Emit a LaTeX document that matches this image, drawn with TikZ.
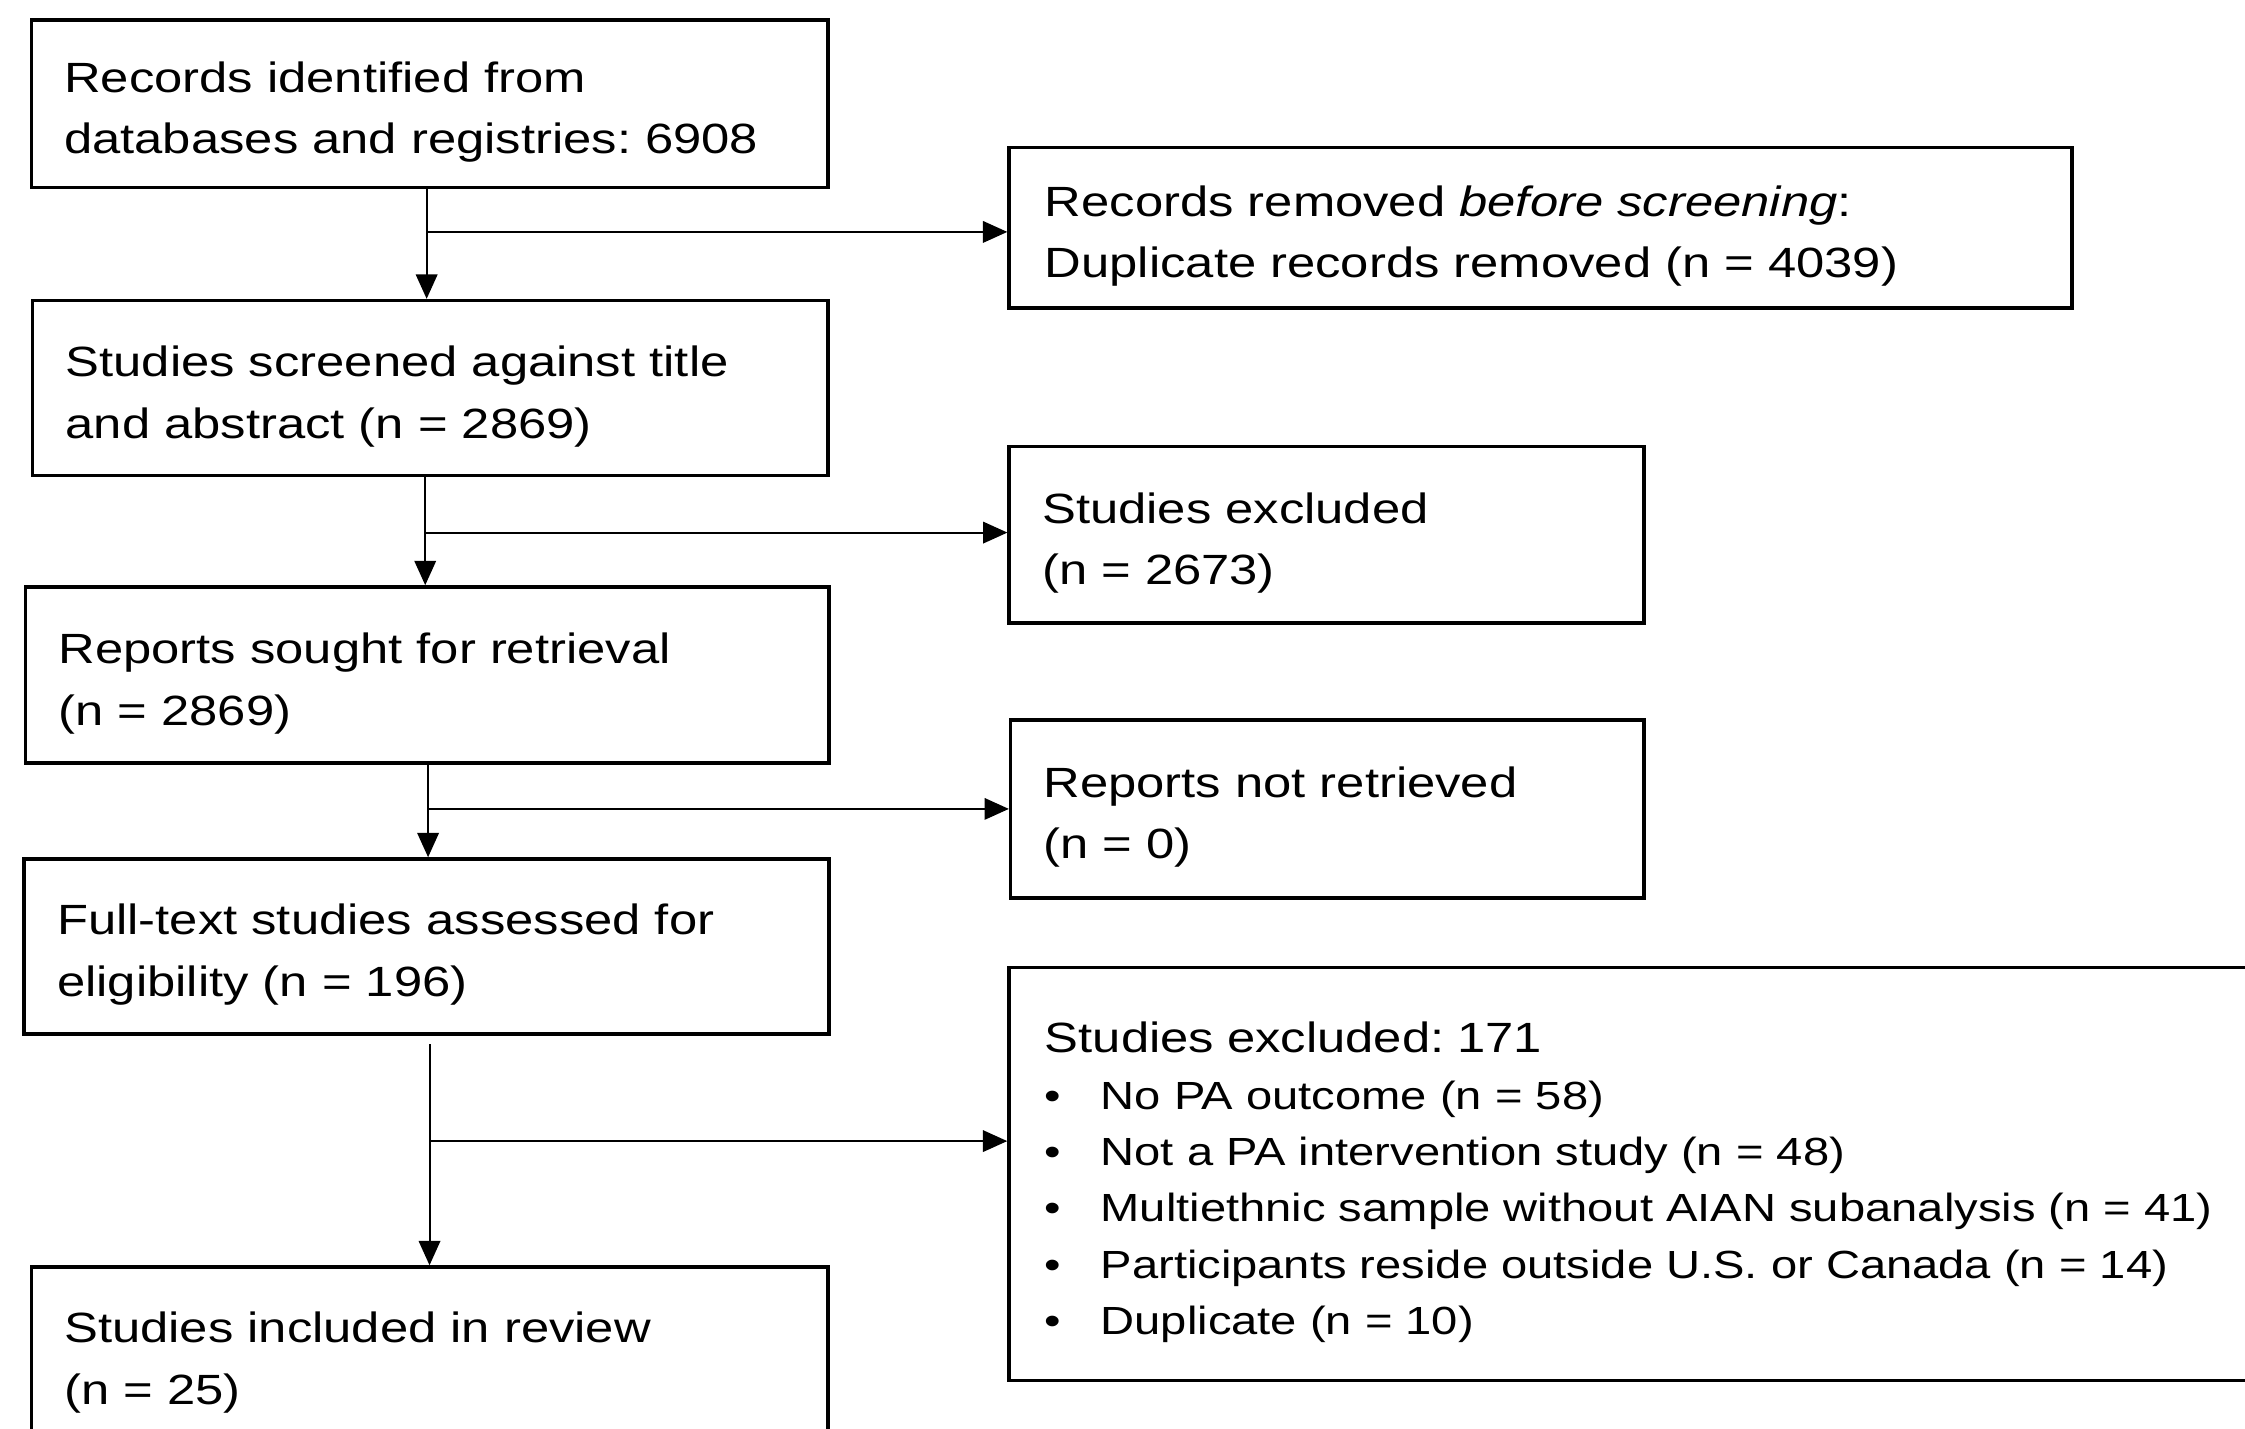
\documentclass[tikz,border=0pt]{standalone}
\usepackage{fontspec}
\setmainfont{Liberation Sans}[FakeStretch=1.2]
\usepackage{tikz}
\usetikzlibrary{arrows.meta,calc,positioning}
\frenchspacing
\tikzset{%
	box/.style      = {draw, rectangle, line width=0.7pt, inner xsep=0.23cm, inner ysep=0pt, align=left, font=\fontsize{8.4}{12.24}\selectfont,
	                   execute at begin node={\rule{0pt}{0.33cm}}}, % Stage
	listbox/.style  = {box, font=\fontsize{7.8}{11.2}\selectfont}, % Stage with reasons
	junction/.style = {coordinate}, % Branch point
	arrow/.style    = {line width=0.4pt, -{Triangle[length=0.17cm, width=0.15cm]}},
}
\newcommand{\itm}{\makebox[0.39cm][l]{\textbullet}}
\newcommand{\headline}[1]{{\fontsize{8.4}{11.2}\selectfont #1}}

\begin{document}
\begin{tikzpicture}[x=0.01cm,y=-0.01cm]
	\useasboundingbox (0,0) rectangle (1568,998);
	\node [box, text width=5.10cm, minimum height=1.17cm] (rec) at (300,72.5) {Records identified from\\databases and registries: 6908};
	\node [box, inner xsep=0.25cm, text width=6.92cm, minimum height=1.12cm] (dup) at (1076,159) {Records removed \textit{before screening}:\\Duplicate records removed (n = 4039)};
	\node [box, text width=5.09cm, minimum height=1.22cm] (scr) at (300.5,271) {Studies screened against title\\and abstract (n = 2869)};
	\node [box, text width=3.97cm, minimum height=1.23cm] (exc) at (926.5,373.5) {Studies excluded\\(n = 2673)};
	\node [box, text width=5.15cm, minimum height=1.23cm] (ret) at (298.5,471.5) {Reports sought for retrieval\\(n = 2869)};
	\node [box, text width=3.96cm, minimum height=1.24cm] (nret) at (927,565) {Reports not retrieved\\(n = 0)};
	\node [box, text width=5.16cm, minimum height=1.22cm] (full) at (298,661) {Full-text studies assessed for\\eligibility (n = 196)};
	\node [listbox, inner xsep=0.25cm, text width=8.6cm, minimum height=2.88cm] (excr) at (1160,820) {\headline{Studies excluded: 171}\\
		\itm No PA outcome (n = 58)\\
		\itm Not a PA intervention study (n = 48)\\
		\itm Multiethnic sample without AIAN subanalysis (n = 41)\\
		\itm Participants reside outside U.S. or Canada (n = 14)\\
		\itm Duplicate (n = 10)};
	\node [box, text width=5.10cm, minimum height=1.22cm] (inc) at (300,946) {Studies included in review\\(n = 25)};

	\node [junction] (j1) at (298,162) {};
	\node [junction] (j2) at (297,372) {};
	\node [junction] (j3) at (299,565) {};
	\node [junction] (j4) at (300,797) {};

	\draw[arrow] (rec.south -| j1) -- (scr.north -| j1);
	\draw[arrow] (j1) -- (j1 -| dup.west);
	\draw[arrow] (scr.south -| j2) -- (ret.north -| j2);
	\draw[arrow] (j2) -- (j2 -| exc.west);
	\draw[arrow] (ret.south -| j3) -- (full.north -| j3);
	\draw[arrow] (j3) -- (j3 -| nret.west);
	\draw[arrow] ([yshift=-0.06cm]full.south -| j4) -- (inc.north -| j4);
	\draw[arrow] (j4) -- (j4 -| excr.west);
\end{tikzpicture}
\end{document}
